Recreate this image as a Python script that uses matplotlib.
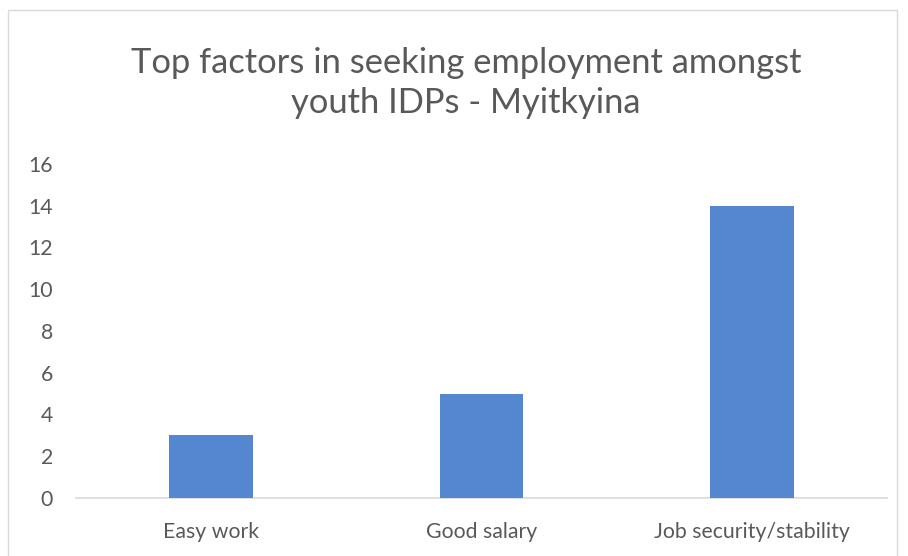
import matplotlib
matplotlib.use("Agg")
import matplotlib.pyplot as plt
from matplotlib.patches import Rectangle

categories = ["Easy work", "Good salary", "Job security/stability"]
values = [3, 5, 14]
yticks = [0, 2, 4, 6, 8, 10, 12, 14, 16]
title = "Top factors in seeking employment amongst\nyouth IDPs - Myitkyina"

plt.rcParams['font.family'] = ['Lato', 'DejaVu Sans']

W, H = 908, 556
fig = plt.figure(figsize=(W / 100, H / 100), dpi=100)
fig.patch.set_facecolor("white")

# chart border
fig.add_artist(Rectangle((8 / W, -0.01), (897 - 8) / W, 1 - 10 / H + 0.01,
                         transform=fig.transFigure, fill=False,
                         edgecolor="#D9D9D9", linewidth=1.0))

left, right = 76 / W, 887 / W
bottom, top = 1 - 498 / H, 1 - 164 / H
ax = fig.add_axes([left, bottom, right - left, top - bottom])
x = range(len(categories))
ax.bar(x, values, width=0.31, color="#5586D0", zorder=3)
ax.set_xlim(-0.5, len(categories) - 0.5)
ax.set_ylim(0, 16)
ax.set_yticks(yticks)
ax.set_yticklabels([str(t) for t in yticks])
ax.set_xticks(list(x))
ax.set_xticklabels(categories)
for s in ["top", "right", "left"]:
    ax.spines[s].set_visible(False)
ax.spines["bottom"].set_color("#D9D9D9")
ax.spines["bottom"].set_linewidth(1.2)
ax.tick_params(axis="both", length=0, labelsize=15.3, colors="#595959")
ax.tick_params(axis="y", pad=16.5)
ax.tick_params(axis="x", pad=17)
ax.set_facecolor("white")

fig.text(466 / W, 1 - 83 / H, title, ha="center", va="center",
         fontsize=24.8, color="#595959", linespacing=1.32)

fig.savefig("out.png", dpi=100)
